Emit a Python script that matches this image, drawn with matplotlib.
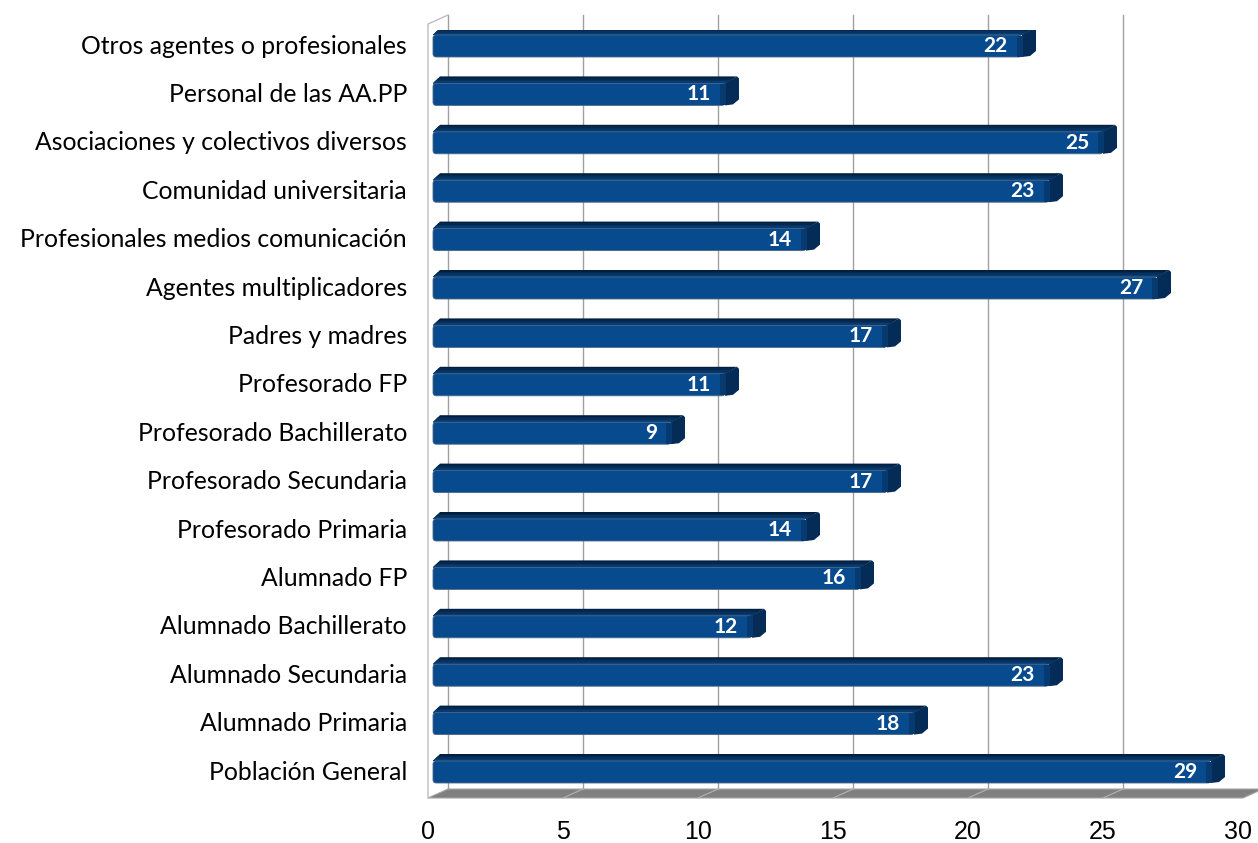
import numpy as np
import matplotlib
matplotlib.use("Agg")
import matplotlib.pyplot as plt
from matplotlib.patches import Polygon, FancyBboxPatch, Rectangle

# data (bottom to top)
categories = ["Población General", "Alumnado Primaria", "Alumnado Secundaria",
              "Alumnado Bachillerato", "Alumnado FP", "Profesorado Primaria",
              "Profesorado Secundaria", "Profesorado Bachillerato", "Profesorado FP",
              "Padres y madres", "Agentes multiplicadores",
              "Profesionales medios comunicación", "Comunidad universitaria",
              "Asociaciones y colectivos diversos", "Personal de las AA.PP",
              "Otros agentes o profesionales"]
values = [29, 18, 23, 12, 16, 14, 17, 9, 11, 17, 27, 14, 23, 25, 11, 22]
xticks = [0, 5, 10, 15, 20, 25, 30]

W, H = 1258, 843
fig = plt.figure(figsize=(W / 100, H / 100), dpi=100)

# axes placed in pixels: x 428..1238 -> 0..30, y 798..30
x0_px, x1_px = 428, 1238
y_bot, y_top = 798, 30
ax = fig.add_axes([x0_px / W, 1 - y_bot / H, (x1_px - x0_px) / W, (y_bot - y_top) / H])
ax.set_xlim(0, 30)
step = 48.4
ylo = -(y_bot - 770) / step
yhi = (770 - y_top) / step
ax.set_ylim(ylo, yhi)
ax.axis("off")

pxx = 30 / (x1_px - x0_px)           # data per pixel (x)
pxy = (yhi - ylo) / (y_bot - y_top)  # data per pixel (y)


def P(x, dx, y, dy):
    # data point plus pixel offset (dy positive = down on screen)
    return (x + dx * pxx, y - dy * pxy)


# depth of back wall
wdx, wdy = 20, 9
top_py = 15

# floor
floor = Polygon([P(0, 0, ylo, 0), P(30, 5, ylo, 0), P(30, 5 + wdx, ylo, -wdy), P(0, wdx, ylo, -wdy)],
                closed=True, facecolor="#808080", edgecolor="#a6a6a6", lw=0.8, clip_on=False, zorder=1)
ax.add_patch(floor)
for t in xticks[1:-1]:
    a = P(t, 0, ylo, 0)
    b = P(t, wdx, ylo, -wdy)
    ax.plot([a[0], b[0]], [a[1], b[1]], color="#b4b4b4", lw=0.8, clip_on=False, zorder=2)

# back wall gridlines and left wall
y_back_top = ylo + (y_bot - top_py) * pxy
for t in xticks[:-1]:
    xb = t + wdx * pxx
    ax.plot([xb, xb], [ylo + wdy * pxy, y_back_top], color="#a0a0a0", lw=1.0,
            clip_on=False, zorder=1)
ax.plot([0, 0, wdx * pxx], [ylo, ylo + (y_bot - 24) * pxy, y_back_top],
        color="#bdbdbd", lw=1.0, clip_on=False, zorder=1)

# bars
front = "#084a8e"
top_cols = ["#031f3e", "#042850", "#063262", "#073c73", "#08457f"]
sidec = "#052c57"
for i, v in enumerate(values):
    yc = i
    xs = 5 * pxx
    xe = v
    # top face, dark with a vertical gradient
    top = Polygon([P(xs, 0, yc, -9), P(xs, 7, yc, -16), P(xe, 12, yc, -16), P(xe, 0, yc, -9)],
                  closed=True, facecolor=top_cols[0], edgecolor="none", zorder=3)
    ax.add_patch(top)
    for k, c in enumerate(top_cols[1:]):
        y0 = P(0, 0, yc, -16 + 1.6 * (k + 1))[1]
        band = Rectangle((xs - 0.1, yc + 8.5 * pxy), xe - xs + 1, y0 - (yc + 8.5 * pxy),
                         facecolor=c, edgecolor="none", zorder=3)
        ax.add_patch(band)
        band.set_clip_path(top)
    # side face
    side = Polygon([P(xe, 0, yc, -9), P(xe, 12, yc, -16), P(xe, 14, yc, -14),
                    P(xe, 14, yc, 7), P(xe, 8, yc, 12), P(xe, 0, yc, 13)],
                   closed=True, facecolor=sidec, edgecolor="none", zorder=3)
    ax.add_patch(side)
    # front face
    fx, fy = P(xs, 0, yc, 13)
    fw = xe - xs
    fh = 22 * pxy
    ff = FancyBboxPatch((fx, fy), fw, fh, boxstyle="round,pad=0,rounding_size=0.12",
                        mutation_aspect=pxy / pxx, facecolor=front, edgecolor="#4f6784",
                        lw=0.6, zorder=4)
    ax.add_patch(ff)
    # darker end of the front face near the side
    ax.add_patch(Polygon([P(xe, -5, yc, -8.5), P(xe, 0.5, yc, -8.5), P(xe, 0.5, yc, 12.5),
                          P(xe, -5, yc, 12.5)],
                         closed=True, facecolor="#063a70", edgecolor="none", zorder=4))
    lx, ly = P(xe, -14, yc, 2)
    ax.text(lx, ly, str(v), ha="right", va="center", color="white",
            fontsize=15, fontweight="bold", family=["Lato", "DejaVu Sans"], zorder=5)
    tx, ty = P(0, -21, yc, 2)
    ax.text(tx, ty, categories[i], ha="right", va="center", color="#000000",
            fontsize=17.8, family=["Lato", "DejaVu Sans"], clip_on=False)

for t in xticks:
    tx, ty = P(t, 0, ylo, 34)
    ax.text(tx, ty, str(t), ha="center", va="center", fontsize=18,
            family=["Liberation Sans", "DejaVu Sans"], clip_on=False)

fig.savefig("out.png", dpi=100)
